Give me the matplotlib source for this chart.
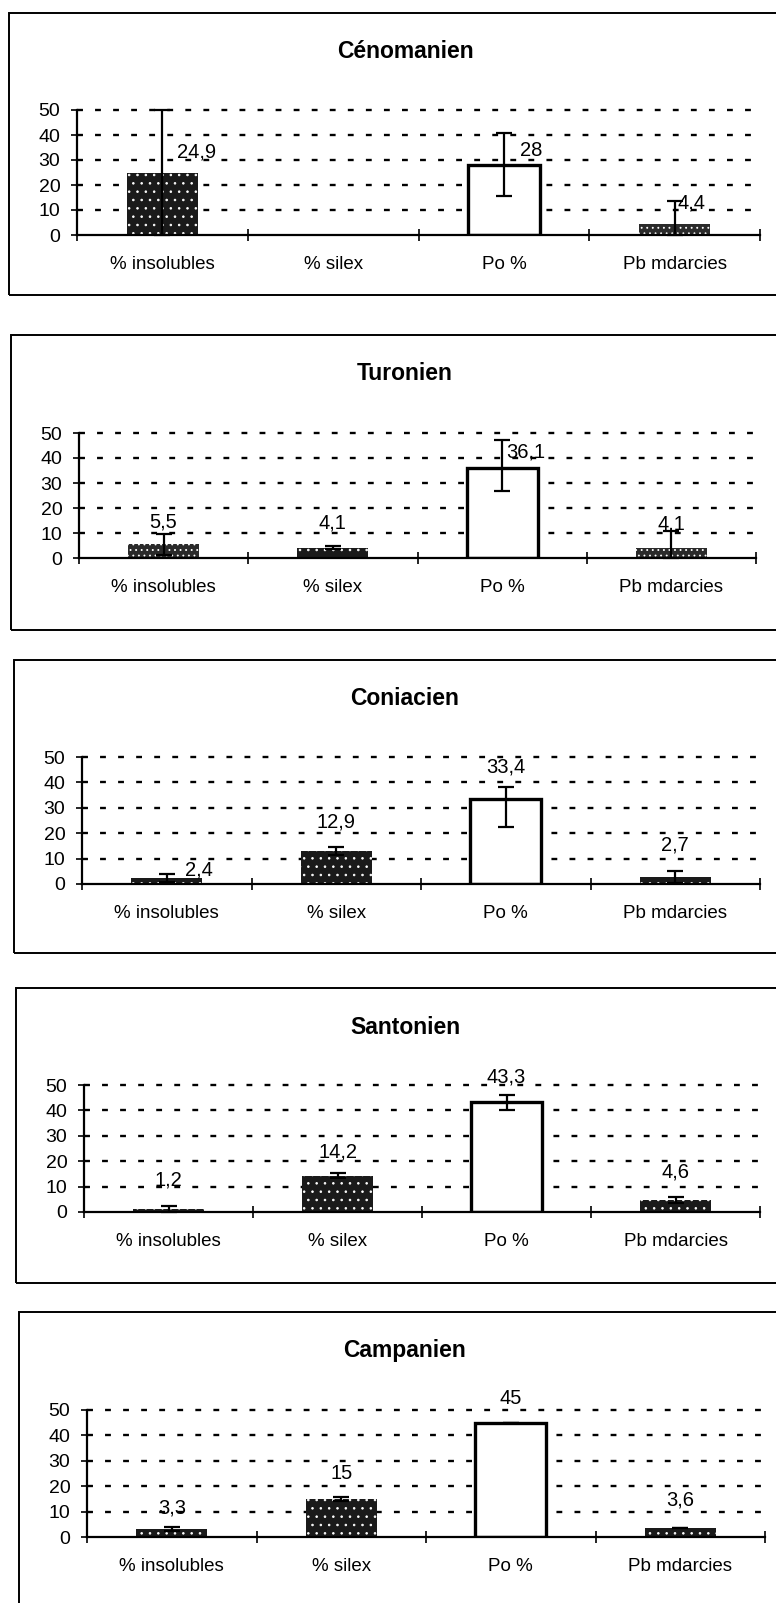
import numpy as np
import matplotlib
matplotlib.use("Agg")
import matplotlib.pyplot as plt
from matplotlib.patches import Rectangle

# ---------------- data ----------------
categories = ['% insolubles', '% silex', 'Po %', 'Pb mdarcies']
stages = ['Cénomanien', 'Turonien', 'Coniacien', 'Santonien', 'Campanien']

cenomanien = [24.9, np.nan, 28.0, 4.4]
turonien = [5.5, 4.1, 36.1, 4.1]
coniacien = [2.4, 12.9, 33.4, 2.7]
santonien = [1.2, 14.2, 43.3, 4.6]
campanien = [3.3, 15.0, 45.0, 3.6]

cenomanien_err_up = [25.1, np.nan, 13.0, 9.2]
cenomanien_err_lo = [25.1, np.nan, 12.4, 9.2]
turonien_err_up = [4.2, 0.6, 11.2, 6.8]
turonien_err_lo = [4.2, 0.6, 9.1, 6.8]
coniacien_err_up = [1.6, 1.5, 4.9, 2.5]
coniacien_err_lo = [1.6, 1.5, 11.0, 2.5]
santonien_err_up = [1.3, 1.0, 2.6, 1.2]
santonien_err_lo = [1.3, 1.0, 3.0, 1.2]
campanien_err_up = [0.8, 0.8, 0.0, 0.0]
campanien_err_lo = [0.8, 0.8, 0.0, 0.0]

yticks = [0, 10, 20, 30, 40, 50]

values = [cenomanien, turonien, coniacien, santonien, campanien]
errs_up = [cenomanien_err_up, turonien_err_up, coniacien_err_up,
           santonien_err_up, campanien_err_up]
errs_lo = [cenomanien_err_lo, turonien_err_lo, coniacien_err_lo,
           santonien_err_lo, campanien_err_lo]

# ---------------- layout / style ----------------
W, H = 776, 1603
# axes box in pixels: left, right, y of 50, y of 0
axes_px = [(77, 760, 110, 235), (79, 756, 433, 558), (82, 760, 757, 884),
           (84, 760, 1085, 1212), (87, 765, 1410, 1537)]
# frames: left, top, bottom
frames_px = [(9, 13, 295), (11, 335, 630), (14, 660, 953),
             (16, 988, 1283), (19, 1312, 1700)]
title_y = [52, 373, 698, 1027, 1350]
title_x = 405
# label placement: x offset (category units), label y in data units
label_dx = [[0.20, 0, 0.16, 0.10], [0, 0, 0.14, 0], [0.19, 0, 0, 0],
            [0, 0, 0, 0], [0, 0, 0, 0]]
label_y = [[33, 0, 34, 12.8], [14.4, 14, 42.4, 13.6], [5.5, 24.4, 46, 15.4],
           [12.6, 23.6, 53, 15.7], [11.4, 25, 54.7, 14.6]]
# fill styles
DARK = dict(facecolor='#1a1a1a', hatch='..')
MID = dict(facecolor='#2a2a2a', hatch='...')
WHITE = dict(facecolor='white', edgecolor='black', linewidth=2.4)
fills = [[DARK, DARK, WHITE, MID], [MID, DARK, WHITE, MID],
         [DARK, DARK, WHITE, DARK], [DARK, DARK, WHITE, DARK],
         [DARK, DARK, WHITE, DARK]]

plt.rcParams['font.family'] = ['Liberation Sans', 'DejaVu Sans']
plt.rcParams['hatch.color'] = 'white'
plt.rcParams['hatch.linewidth'] = 0.6
plt.rcParams['lines.scale_dashes'] = False

fig = plt.figure(figsize=(W / 100, H / 100), dpi=100)

for i in range(5):
    l, r, y50, y0 = axes_px[i]
    ax = fig.add_axes([l / W, 1 - y0 / H, (r - l) / W, (y0 - y50) / H])
    ax.set_facecolor('none')
    x = np.arange(1, len(categories) + 1)
    vals = np.array(values[i], dtype=float)
    for j in range(len(categories)):
        if np.isnan(vals[j]):
            continue
        ax.bar(x[j], vals[j], width=0.42, zorder=3, **fills[i][j])
    up = np.array(errs_up[i], dtype=float)
    lo = np.minimum(np.array(errs_lo[i], dtype=float), vals)
    ax.errorbar(x, vals, yerr=[lo, up], fmt='none', ecolor='black',
                elinewidth=1.6, capsize=6, capthick=1.6, zorder=4,
                clip_on=False)
    for j in range(len(categories)):
        if np.isnan(vals[j]):
            continue
        txt = f"{vals[j]:g}".replace('.', ',')
        ax.text(x[j] + label_dx[i][j], label_y[i][j], txt, ha='center',
                va='center', fontsize=14.5, zorder=5, clip_on=False)

    ax.set_xlim(0.5, len(categories) + 0.5)
    ax.set_ylim(0, 50)
    ax.set_yticks(yticks)
    for t in yticks[1:]:
        ax.axhline(t, color='black', lw=1.7, linestyle=(0, (4.2, 8.8)),
                   zorder=1, clip_on=False)
    ax.set_xticks(np.arange(0.5, len(categories) + 1.0, 1.0))
    ax.set_xticklabels([])
    ax.set_xticks(x, minor=True)
    ax.set_xticklabels(categories, minor=True, fontsize=13.5)
    ax.tick_params(axis='x', which='major', direction='inout', length=8,
                   width=1.2)
    ax.tick_params(axis='x', which='minor', length=0, pad=15)
    ax.tick_params(axis='y', direction='inout', length=8, width=1.2,
                   labelsize=14, pad=8)
    for s in ['top', 'right']:
        ax.spines[s].set_visible(False)
    for s in ['left', 'bottom']:
        ax.spines[s].set_linewidth(1.6)
        ax.spines[s].set_zorder(6)

    fl, ft, fb = frames_px[i]
    fig.add_artist(Rectangle((fl / W, 1 - fb / H), (W + 40 - fl) / W,
                             (fb - ft) / H, transform=fig.transFigure,
                             fill=False, ec='black', lw=1.4, clip_on=False))
    fig.text(title_x / W, 1 - title_y[i] / H, stages[i], ha='center',
             va='center', fontsize=16.5, fontweight='bold')

fig.savefig('out.png', dpi=100, facecolor='white')
